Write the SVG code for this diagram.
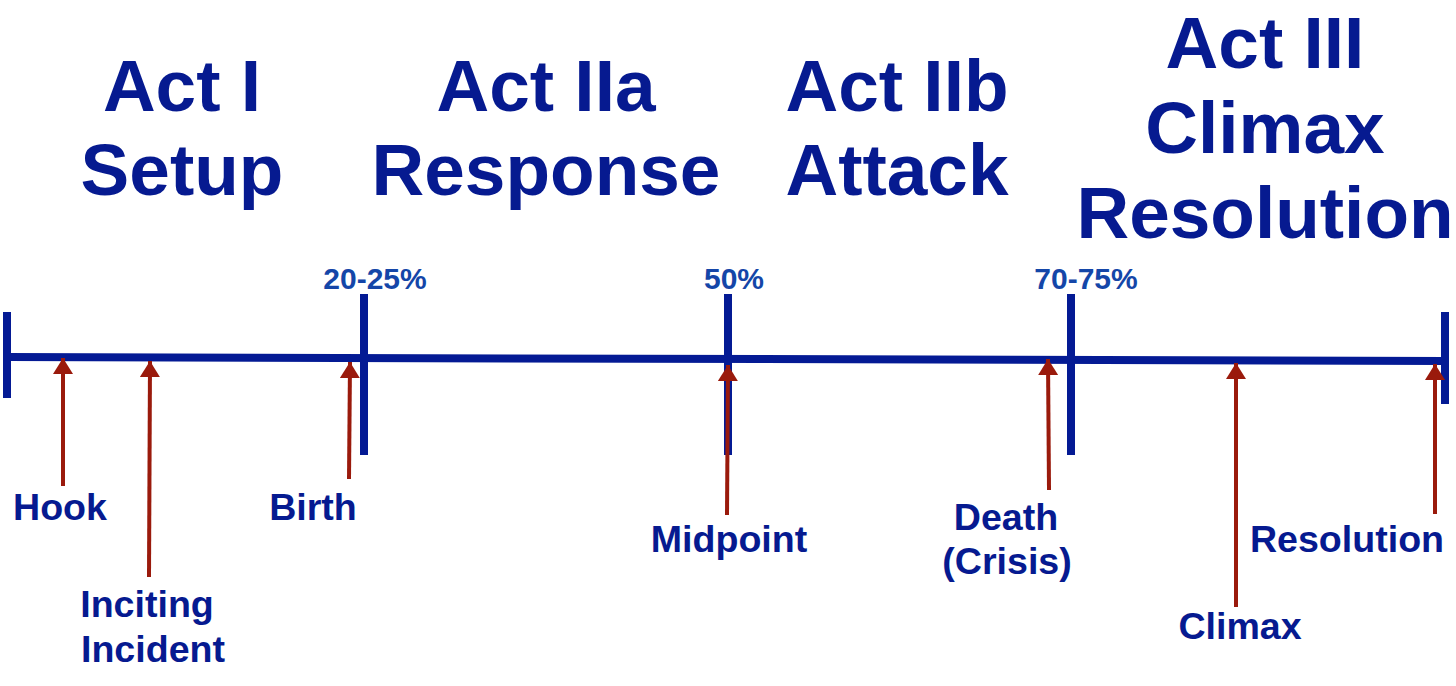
<svg xmlns="http://www.w3.org/2000/svg" width="1456" height="686" viewBox="0 0 1456 686">
<style>
.t{font-family:"Liberation Sans",Arial,sans-serif;font-weight:bold;fill:#061a90;text-anchor:middle}
.title{font-size:73px}
.pct{font-size:30px;fill:#1446a8}
.lbl{font-size:37.6px}
.axis{stroke:#041a94;stroke-width:8;fill:none}
.arr{stroke:#9a1a0c;stroke-width:4;fill:none;marker-end:url(#ah)}
</style>
<defs>
<marker id="ah" markerUnits="userSpaceOnUse" markerWidth="18" markerHeight="20" refX="16" refY="10" orient="auto">
<path d="M0,0 L16,10 L0,20 Z" fill="#9a1a0c"/>
</marker>
</defs>
<rect width="1456" height="686" fill="#fff"/>
<g id="titles">
<g id="act1"><text class="t title" x="182" y="111">Act I</text><text class="t title" x="182" y="195">Setup</text></g>
<g id="act2a"><text class="t title" x="546" y="111">Act IIa</text><text class="t title" x="546" y="195">Response</text></g>
<g id="act2b"><text class="t title" x="897" y="111">Act IIb</text><text class="t title" x="897" y="195">Attack</text></g>
<g id="act3"><text class="t title" x="1265" y="68">Act III</text><text class="t title" x="1265" y="153">Climax</text><text class="t title" x="1265" y="238">Resolution</text></g>
</g>
<g id="timeline">
<line class="axis" x1="7" y1="357" x2="1445" y2="361"/>
<line class="axis" x1="7" y1="312" x2="7" y2="398"/>
<line class="axis" x1="364" y1="294" x2="364" y2="455"/>
<line class="axis" x1="728" y1="294" x2="728" y2="455"/>
<line class="axis" x1="1071" y1="294" x2="1071" y2="455"/>
<line class="axis" x1="1445" y1="312" x2="1445" y2="404"/>
</g>
<g id="percent-labels">
<text class="t pct" x="375" y="289">20-25%</text>
<text class="t pct" x="734" y="289">50%</text>
<text class="t pct" x="1086" y="289">70-75%</text>
</g>
<g id="connectors">
<line class="arr" x1="63" y1="486" x2="63" y2="358"/>
<line class="arr" x1="149" y1="577" x2="150" y2="361"/>
<line class="arr" x1="349" y1="479" x2="350" y2="362"/>
<line class="arr" x1="727" y1="515" x2="728" y2="365"/>
<line class="arr" x1="1049" y1="490" x2="1048" y2="359"/>
<line class="arr" x1="1236" y1="607" x2="1236" y2="363"/>
<line class="arr" x1="1435" y1="514" x2="1435" y2="364"/>
</g>
<g id="hook"><text class="t lbl" x="60" y="520">Hook</text></g>
<g id="inciting"><text class="t lbl" x="147" y="617">Inciting</text><text class="t lbl" x="153" y="662">Incident</text></g>
<g id="birth"><text class="t lbl" x="313" y="520">Birth</text></g>
<g id="midpoint"><text class="t lbl" x="729" y="552">Midpoint</text></g>
<g id="death"><text class="t lbl" x="1006" y="530">Death</text><text class="t lbl" x="1007" y="574">(Crisis)</text></g>
<g id="climax"><text class="t lbl" x="1240" y="639">Climax</text></g>
<g id="resolution"><text class="t lbl" x="1347" y="552">Resolution</text></g>
</svg>
